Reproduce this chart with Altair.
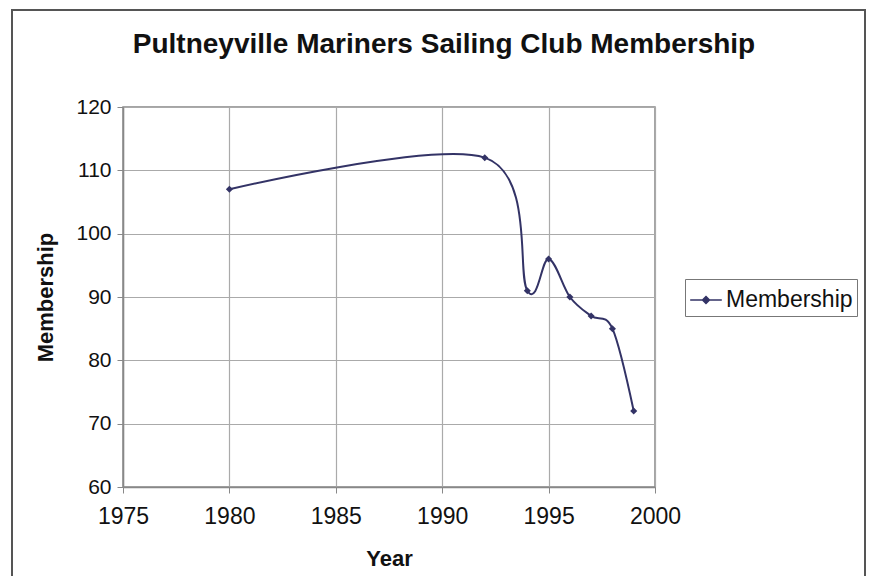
import altair as alt
import pandas as pd

years = [1980, 1992, 1994, 1995, 1996, 1997, 1998, 1999]
members = [107, 112, 91, 96, 90, 87, 85, 72]
series = ["Membership"] * len(years)

df = pd.DataFrame({"Year": years, "Membership": members, "Series": series})

navy = "#333366"
font = "Liberation Sans"

color = alt.Color(
    "Series:N",
    scale=alt.Scale(range=[navy]),
    legend=alt.Legend(
        title=None,
        orient="none",
        legendX=562,
        legendY=172,
        symbolType="M-1,0H1M-0.22,0L0,-0.22L0.22,0L0,0.22Z",
        symbolSize=1000,
        symbolStrokeWidth=1.5,
        symbolFillColor=navy,
        symbolStrokeColor=navy,
        labelFontSize=23,
        labelFont=font,
        labelColor="#111111",
        labelOffset=3,
        strokeColor="#777777",
        padding=4,
        fillColor="white",
    ),
)

x = alt.X(
    "Year:Q",
    scale=alt.Scale(domain=[1975, 2000], nice=False, zero=False),
    axis=alt.Axis(values=[1975, 1980, 1985, 1990, 1995, 2000], format="d", title="Year",
                  labelFlush=False, labelFontSize=23, labelPadding=12, titlePadding=20),
)
y = alt.Y(
    "Membership:Q",
    scale=alt.Scale(domain=[60, 120], nice=False, zero=False),
    axis=alt.Axis(values=[60, 70, 80, 90, 100, 110, 120], title="Membership",
                  labelFontSize=21, labelPadding=6, titlePadding=18),
)

line = alt.Chart(df).mark_line(
    interpolate="cardinal", tension=0, strokeWidth=2
).encode(x=x, y=y, color=color)

pts = alt.Chart(df).mark_point(
    shape="diamond", filled=True, size=50, opacity=1
).encode(x=x, y=y, color=color)

border = alt.Chart(df).mark_rect(
    fill=None, stroke="#555555", strokeWidth=2, clip=False
).encode(
    x=alt.value(-111), x2=alt.value(742), y=alt.value(-97), y2=alt.value(500)
)

chart = alt.layer(border, line, pts).properties(
    width=532,
    height=380,
    autosize=alt.AutoSizeParams(type="none"),
    padding={"left": 115, "top": 99, "right": 212, "bottom": 89},
    title=alt.TitleParams(
        "Pultneyville Mariners Sailing Club Membership",
        fontSize=28,
        font=font,
        fontWeight="bold",
        color="#111111",
        anchor="middle",
        frame="group",
        offset=0,
        dy=50,
        dx=55,
    ),
).configure_view(
    stroke="#888888", strokeWidth=1.5
).configure_axis(
    grid=True,
    gridColor="#aaaaaa",
    gridWidth=1.2,
    domainColor="#888888",
    domainWidth=1.5,
    tickColor="#888888",
    tickSize=6,
    labelFont=font,
    labelColor="#111111",
    titleFont=font,
    titleFontSize=22,
    titleFontWeight="bold",
    titleColor="#111111",
)

chart.save("out.html", embed_options={"renderer": "svg", "actions": False})
